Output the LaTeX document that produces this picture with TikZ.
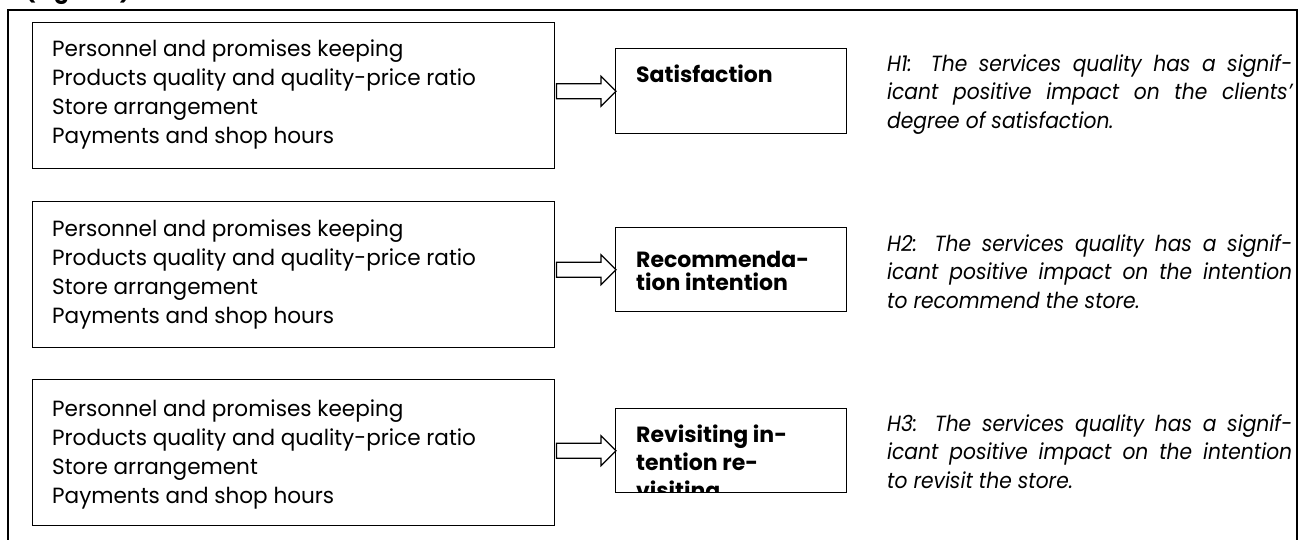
\documentclass[tikz,border=0pt]{standalone}
\usepackage{fontspec}
\setmainfont{Poppins}[UprightFeatures={FakeStretch=0.98},ItalicFeatures={FakeStretch=0.92}]
\usetikzlibrary{calc}
\newcommand\tp{\rule{0pt}{20pt}}
\newcommand\barrow[2]{%
  \draw[barr] ($(#1.east |- #2.west)+(1,-7.5)$) -- ($(#2.west)+(-14,-7.5)$)
    -- ($(#2.west)+(-14,-15)$) -- ($(#2.west)+(1,0)$) -- ($(#2.west)+(-14,15)$)
    -- ($(#2.west)+(-14,7.5)$) -- ($(#1.east |- #2.west)+(1,7.5)$) -- cycle;}
\begin{document}
\begin{tikzpicture}[x=1pt,y=-1pt,
  frame/.style={draw, line width=2.6pt},
  ibox/.style={draw, line width=1.4pt, rectangle, inner sep=0pt, anchor=north west},
  ltext/.style={anchor=north west, inner sep=0pt, align=left, font=\fontsize{22}{28.8}\selectfont},
  mtext/.style={anchor=north west, inner sep=0pt, align=left, font=\fontsize{22}{28}\selectfont\bfseries},
  htext/.style={anchor=north west, inner sep=0pt, align=left, font=\fontsize{22}{28.7}\selectfont\itshape},
  barr/.style={draw, line width=1.2pt, fill=white, line join=miter}]
\useasboundingbox (0,0) rectangle (1304,539);
\clip (0,0) rectangle (1304,539);
\fill[white] (0,0) rectangle (1304,539);
\node[anchor=base west, inner sep=0pt, font=\fontsize{22}{28}\selectfont\bfseries] (cap) at (25,-2) {(Figure 1)};
\draw[frame] (8,10) rectangle (1297,560);
% left boxes
\node[ibox, minimum width=522pt, minimum height=146pt] (L1) at (32,22) {};
\node[ibox, minimum width=522pt, minimum height=146pt] (L2) at (32,201) {};
\node[ibox, minimum width=522pt, minimum height=146pt] (L3) at (32,379) {};
\node[ltext] (T1) at (52,36.5) {\tp Personnel and promises keeping\\Products quality and quality-price ratio\\Store arrangement\\Payments and shop hours};
\node[ltext] (T2) at (52,216.5) {\tp Personnel and promises keeping\\Products quality and quality-price ratio\\Store arrangement\\Payments and shop hours};
\node[ltext] (T3) at (52,396.5) {\tp Personnel and promises keeping\\Products quality and quality-price ratio\\Store arrangement\\Payments and shop hours};
% middle boxes
\node[ibox, minimum width=231pt, minimum height=85pt] (M1) at (615,48) {};
\node[ibox, minimum width=231pt, minimum height=84pt] (M2) at (615,227) {};
\node[ibox, minimum width=231pt, minimum height=84pt] (M3) at (615,408) {};
\node[mtext] (S1) at (636,62) {\tp Satisfaction};
\node[mtext, font=\fontsize{22}{23}\selectfont\bfseries] (S2) at (636,247) {\tp Recommenda-\\tion intention};
\begin{scope}
\clip ($(M3.north west)+(1,1)$) rectangle ($(M3.south east)+(-1,-1)$);
\node[mtext] (S3) at (636,422) {\tp Revisiting in-\\tention re-\\visiting};
\end{scope}
% arrows
\barrow{L1}{M1}
\barrow{L2}{M2}
\barrow{L3}{M3}
% hypotheses
\node[htext] (H1) at (887,51) {\tp\makebox[405pt][s]{H1: The services quality has a signif-}\\\makebox[405pt][s]{icant positive impact on the clients’}\\degree of satisfaction.};
\node[htext] (H2) at (887,231) {\tp\makebox[405pt][s]{H2: The services quality has a signif-}\\\makebox[405pt][s]{icant positive impact on the intention}\\to recommend the store.};
\node[htext] (H3) at (887,411) {\tp\makebox[405pt][s]{H3: The services quality has a signif-}\\\makebox[405pt][s]{icant positive impact on the intention}\\to revisit the store.};
\end{tikzpicture}
\end{document}
